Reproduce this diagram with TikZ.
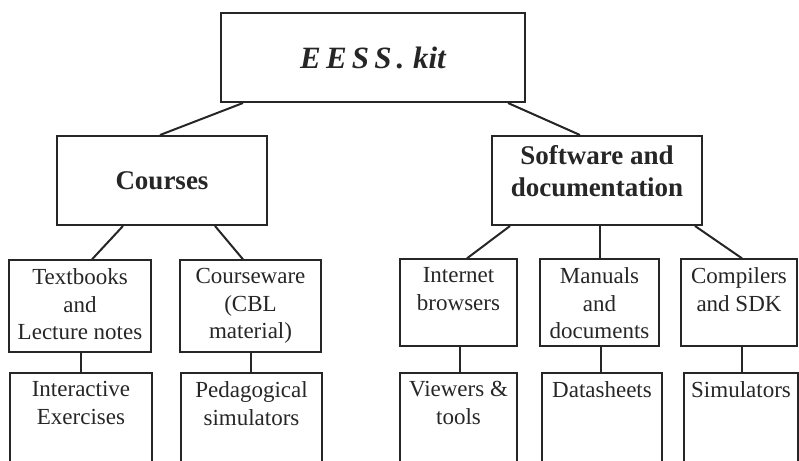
\documentclass[tikz,border=0pt]{standalone}
\usepackage{fontspec}
\setmainfont{Liberation Serif}
\usetikzlibrary{positioning}
\definecolor{ink}{HTML}{262626}

\begin{document}
\begin{tikzpicture}[
    x=1pt, y=-1pt,
    root/.style={
        draw=ink, rectangle, line width=2pt,
        minimum width=304pt, minimum height=89pt, inner sep=0pt,
        text=ink, font=\fontsize{31}{36}\selectfont\bfseries\itshape
    },
    branch/.style={
        draw=ink, rectangle, line width=2pt,
        minimum width=210pt, minimum height=89pt, inner sep=0pt,
        align=center, text=ink, font=\fontsize{27}{32}\selectfont\bfseries
    },
    leaf/.style={draw=ink, rectangle, line width=1.3pt, inner sep=0pt},
    txt/.style={inner sep=0pt, align=center, text=ink, font=\fontsize{23}{27.5}\selectfont},
    link/.style={ink, line width=2pt},
    stem/.style={ink, line width=1.5pt}
]

%% ---- Canvas (bottom row runs off the page) ----
\useasboundingbox (0,0) rectangle (799,460);
\clip (0,0) rectangle (799,460);

%% ---- Nodes at explicit (x,y) positions ----

% Root and the two branches
\node[root]   at (373, 57.5)  (kit)      {E\,E\,S\,S\,.\;kit};
\node[branch] at (162, 180.5) (courses)  {Courses};
\node[branch] at (597, 180.5) (software) {};
\node[branch, draw=none, minimum size=0pt] at ([yshift=9pt]software.center) {Software and\\documentation};

% Second level (y=302..306)
\node[leaf, minimum width=142pt, minimum height=92pt] at ( 80,   306)   (books)     {};
\node[leaf, minimum width=141pt, minimum height=92pt] at (250.5, 306)   (cware)     {};
\node[leaf, minimum width=117pt, minimum height=87pt] at (458.5, 302.5) (browsers)  {};
\node[leaf, minimum width=119pt, minimum height=87pt] at (599.5, 302.5) (manuals)   {};
\node[leaf, minimum width=116pt, minimum height=87pt] at (739,   302.5) (compilers) {};

% Bottom row, cut by the page edge
\node[leaf, minimum width=142pt, minimum height=92pt] at ( 81,   419) (exercises) {};
\node[leaf, minimum width=141pt, minimum height=92pt] at (251.5, 419) (pedsim)    {};
\node[leaf, minimum width=117pt, minimum height=92pt] at (458.5, 419) (viewers)   {};
\node[leaf, minimum width=120pt, minimum height=92pt] at (602,   419) (datasheets){};
\node[leaf, minimum width=114pt, minimum height=92pt] at (741,   419) (simulators){};

% Texts hang from the top of each box
\node[txt, below=9pt of books.north]      {Textbooks\\and\\Lecture notes};
\node[txt, below=9pt of cware.north]      {Courseware\\(CBL\\material)};
\node[txt, below=9pt of browsers.north]   {Internet\\browsers};
\node[txt, below=9pt of manuals.north]    {Manuals\\and\\documents};
\node[txt, below=9pt of compilers.north]  {Compilers\\and SDK};
\node[txt, below=9pt of exercises.north]  {Interactive\\Exercises};
\node[txt, below=9pt of pedsim.north]     {Pedagogical\\simulators};
\node[txt, below=9pt of viewers.north]    {Viewers \&\\tools};
\node[txt, below=9pt of datasheets.north] {Datasheets};
\node[txt, below=9pt of simulators.north] {Simulators};

%% ---- Connectors ----

% root -> branches
\draw[link] ([xshift=-130pt]kit.south) -- ([xshift=-2pt]courses.north);
\draw[link] ([xshift=135pt]kit.south)  -- ([xshift=-17pt]software.north);

% Courses -> its two boxes
\draw[link] ([xshift=-39pt]courses.south) -- ([xshift=12pt]books.north);
\draw[link] ([xshift=53pt]courses.south)  -- ([xshift=-7.5pt]cware.north);

% Software -> its three boxes
\draw[link] ([xshift=-87pt]software.south) -- ([xshift=8.5pt]browsers.north);
\draw[link] ([xshift=3pt]software.south)   -- ([xshift=3pt]software.south |- manuals.north);
\draw[link] ([xshift=98pt]software.south)  -- ([xshift=3pt]compilers.north);

% second level -> bottom row
\draw[stem] ([xshift=1pt]books.south)       -- ([xshift=1pt]books.south |- exercises.north);
\draw[stem] ([xshift=0.5pt]cware.south)     -- ([xshift=0.5pt]cware.south |- pedsim.north);
\draw[stem] ([xshift=1.5pt]browsers.south)  -- ([xshift=1.5pt]browsers.south |- viewers.north);
\draw[stem] ([xshift=1.5pt]manuals.south)   -- ([xshift=1.5pt]manuals.south |- datasheets.north);
\draw[stem] ([xshift=3pt]compilers.south)   -- ([xshift=3pt]compilers.south |- simulators.north);

\end{tikzpicture}
\end{document}
